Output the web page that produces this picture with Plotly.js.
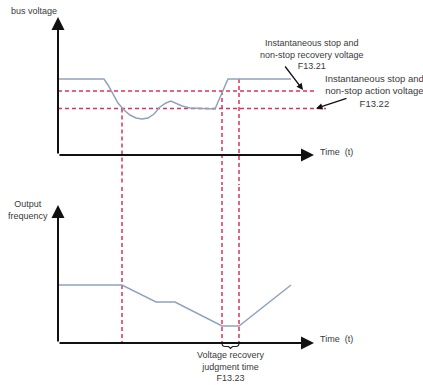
<!DOCTYPE html>
<html><head><meta charset="utf-8">
<script src="https://cdn.plot.ly/plotly-3.0.1.min.js"></script>
<style>html,body{margin:0;padding:0;background:#fff}#chart{width:423px;height:385px}</style>
</head><body><div id="chart"></div>
<script>
// Bus voltage curve (time, voltage) in arbitrary units
var voltTime = [0,46,50,55,60,66,72,78,84,90,96,102,108,113,118,124,132,142,157,170,233];
var voltValue = [76,76,70,61,52,45,40,37,36,37,41,48,52,54,52,49,47,46.5,46,76,76];
// Output frequency curve
var freqTime = [0,64,98,117,164,181,233];
var freqValue = [58,58,41,41,17,17,58];
// Threshold levels
var recoveryVoltage = 64;   // F13.21
var actionVoltage = 46.5;   // F13.22
var topVoltage = 76;
// Event times
var tAction = 64, tRecover = 164, tResume = 181;
// Axis extents
var axisTimeEnd = 256, axisValueEnd = 138;
var recoveryLineEnd = 258, actionLineEnd = 268;

var lineColor = '#8fa3bf', dashColor = '#e0305a', axisColor = '#333333', textColor = '#3a3a3a';
var fontFam = 'Liberation Sans, Arial, sans-serif';

var traces = [
  {x: voltTime, y: voltValue, xaxis:'x', yaxis:'y', mode:'lines', line:{color:lineColor, width:1.5}, hoverinfo:'skip'},
  {x: freqTime, y: freqValue, xaxis:'x2', yaxis:'y2', mode:'lines', line:{color:lineColor, width:1.5}, hoverinfo:'skip'}
];

var dash = {color: dashColor, width: 1.5, dash: '4px,3px'};
var shapes = [
  {type:'line', xref:'x', yref:'y', x0:0, x1:recoveryLineEnd, y0:recoveryVoltage, y1:recoveryVoltage, line:dash, layer:'below'},
  {type:'line', xref:'x', yref:'y', x0:0, x1:actionLineEnd, y0:actionVoltage, y1:actionVoltage, line:dash, layer:'below'},
  {type:'line', xref:'x', yref:'y', x0:tAction, x1:tAction, y0:actionVoltage, y1:-40, line:dash, layer:'below'},
  {type:'line', xref:'x', yref:'y', x0:tRecover, x1:tRecover, y0:recoveryVoltage, y1:-40, line:dash, layer:'below'},
  {type:'line', xref:'x', yref:'y', x0:tResume, x1:tResume, y0:topVoltage, y1:-40, line:dash, layer:'below'},
  {type:'line', xref:'x2', yref:'y2', x0:tAction, x1:tAction, y0:170, y1:0, line:dash, layer:'below'},
  {type:'line', xref:'x2', yref:'y2', x0:tRecover, x1:tRecover, y0:170, y1:0, line:dash, layer:'below'},
  {type:'line', xref:'x2', yref:'y2', x0:tResume, x1:tResume, y0:170, y1:0, line:dash, layer:'below'},
  // brace for judgment time
  {type:'path', xref:'x2', yref:'y2', line:{color:'#222', width:1.2},
   path:'M '+tRecover+',0 Q '+tRecover+',-3.5 '+(tRecover+3)+',-3.5 L '+((tRecover+tResume)/2-2)+',-3.5 L '+((tRecover+tResume)/2)+',-5.5 L '+((tRecover+tResume)/2+2)+',-3.5 L '+(tResume-3)+',-3.5 Q '+tResume+',-3.5 '+tResume+',0'}
];

function axisArrow(xr, yr, x, y) {
  return {xref:xr, yref:yr, axref:xr, ayref:yr, x:x, y:y, ax:0, ay:0, text:'', showarrow:true,
          arrowhead:2, arrowsize:1.3, arrowwidth:2, arrowcolor:'#111'};
}
function txt(xr, yr, x, y, t, opts) {
  var a = {xref:xr, yref:yr, x:x, y:y, text:t, showarrow:false,
           font:{family:fontFam, size:9, color:textColor}, xanchor:'center', yanchor:'middle'};
  for (var k in (opts||{})) a[k] = opts[k];
  return a;
}

var annotations = [
  axisArrow('x','y', axisTimeEnd, 0),
  axisArrow('x','y', 0, axisValueEnd),
  axisArrow('x2','y2', axisTimeEnd, 0),
  axisArrow('x2','y2', 0, axisValueEnd),
  txt('x','y', -24, 144, 'bus voltage'),
  txt('x2','y2', -30, 133, 'Output<br>frequency'),
  txt('x','y', 260, 3, 'Time  (t)', {xanchor:'left'}),
  txt('x2','y2', 260, 4, 'Time  (t)', {xanchor:'left'}),
  txt('x','y', 254, 101, 'Instantaneous stop and<br>non-stop recovery voltage<br>F13.21'),
  txt('x','y', 316, 64, 'Instantaneous stop and<br>non-stop action voltage<br>F13.22', {font:{family:fontFam, size:9.5, color:textColor}}),
  txt('x2','y2', (tRecover+tResume)/2, -23, 'Voltage recovery<br>judgment time<br>F13.23'),
  {xref:'x', yref:'y', axref:'x', ayref:'y', x:245, y:65, ax:226, ay:90, text:'', showarrow:true,
   arrowhead:2, arrowsize:1, arrowwidth:1.3, arrowcolor:'#111'},
  {xref:'x', yref:'y', axref:'x', ayref:'y', x:258, y:46.5, ax:290, ay:57, text:'', showarrow:true,
   arrowhead:2, arrowsize:1, arrowwidth:1.3, arrowcolor:'#111'}
];

var hidden = {showgrid:false, zeroline:false, showline:false, showticklabels:false, ticks:'', fixedrange:true};
var layout = {
  width:423, height:385, margin:{l:0, r:0, t:0, b:0},
  paper_bgcolor:'#fff', plot_bgcolor:'rgba(0,0,0,0)', showlegend:false,
  xaxis: Object.assign({domain:[0,1], range:[-58,365], anchor:'y'}, hidden),
  yaxis: Object.assign({domain:[200/385,1], range:[-30,155], anchor:'x'}, hidden),
  xaxis2: Object.assign({domain:[0,1], range:[-58,365], anchor:'y2'}, hidden),
  yaxis2: Object.assign({domain:[0,200/385], range:[-42,158], anchor:'x2'}, hidden),
  shapes: shapes, annotations: annotations
};
Plotly.newPlot('chart', traces, layout, {staticPlot:true, displayModeBar:false});
</script></body></html>
